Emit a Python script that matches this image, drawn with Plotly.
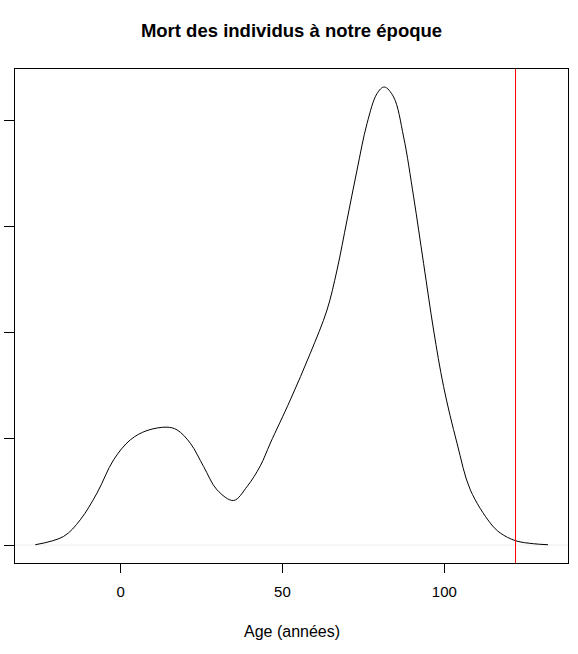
import plotly.graph_objects as go

# Density curve of age at death
age = [-26.35, -17.61, -12.45, -7.29, -2.16, 3.00, 8.16, 14.33, 17.42, 21.53,
       25.64, 29.78, 34.91, 39.08, 43.16, 46.25, 52.43, 58.61, 63.76, 66.85,
       69.94, 73.03, 76.12, 79.21, 81.46, 84.34, 87.43, 90.52, 93.60, 96.69,
       99.78, 103.92, 108.03, 114.21, 117.30, 122.03, 127.59, 132.04]
density = [0.000014, 0.000405, 0.00119, 0.002447, 0.004014, 0.004955, 0.005393,
           0.005553, 0.005426, 0.004800, 0.003699, 0.002602, 0.002099, 0.002758,
           0.003730, 0.004800, 0.006838, 0.009036, 0.011073, 0.012956, 0.015309,
           0.017662, 0.019859, 0.021271, 0.021582, 0.021111, 0.019229, 0.016405,
           0.013271, 0.010132, 0.007464, 0.004800, 0.002602, 0.001035, 0.000565,
           0.000202, 0.000061, 0.000014]

max_age = 122  # red vertical marker
x_ticks = [0, 50, 100]
x_tick_labels = ["0", "50", "100"]
y_ticks = [0, 0.005, 0.010, 0.015, 0.020]

title_text = "Mort des individus à notre époque"
x_title = "Age (années)"

font_family = "Liberation Sans, Arial, Helvetica, sans-serif"

fig = go.Figure()
fig.add_trace(go.Scatter(x=age, y=density, mode="lines",
                         line=dict(color="black", width=1, shape="spline", smoothing=1.0),
                         showlegend=False, hoverinfo="skip"))

# faint zero line
fig.add_shape(type="line", xref="paper", yref="y", x0=0, x1=1, y0=0, y1=0,
              line=dict(color="#ececec", width=1), layer="below")
# red vertical line
fig.add_shape(type="line", xref="x", yref="paper", x0=max_age, x1=max_age, y0=0, y1=1,
              line=dict(color="red", width=1))

fig.update_layout(
    width=578, height=654,
    margin=dict(l=15, r=10, t=69, b=91, autoexpand=False),
    paper_bgcolor="white", plot_bgcolor="white",
    font=dict(family=font_family, size=15, color="black"),
    title=dict(text="<b>" + title_text + "</b>", x=0.5, xref="paper",
               y=1 - 31 / 654, yref="container", xanchor="center", yanchor="middle",
               font=dict(size=18.5, family=font_family, color="black")),
    xaxis=dict(range=[-32.62, 138.21], tickvals=x_ticks, ticktext=x_tick_labels,
               ticks="outside", ticklen=9, tickwidth=1, tickcolor="black",
               showline=True, linecolor="black", linewidth=1, mirror=True,
               showgrid=False, zeroline=False, ticklabelstandoff=6,
               automargin=False, tickfont=dict(size=15)),
    yaxis=dict(range=[-0.000847, 0.02243], tickvals=y_ticks,
               ticks="outside", ticklen=10, tickwidth=1, tickcolor="black",
               showticklabels=False, automargin=False,
               showline=True, linecolor="black", linewidth=1, mirror=True,
               showgrid=False, zeroline=False),
    annotations=[dict(text=x_title, xref="paper", yref="paper", x=0.5,
                      y=-(632 - 563.3) / 494.6, xanchor="center", yanchor="middle",
                      showarrow=False, font=dict(size=16))],
)

fig.write_html("out.html", config={"displayModeBar": False},
               post_script="document.body.style.margin='0';document.body.style.overflow='hidden';")
